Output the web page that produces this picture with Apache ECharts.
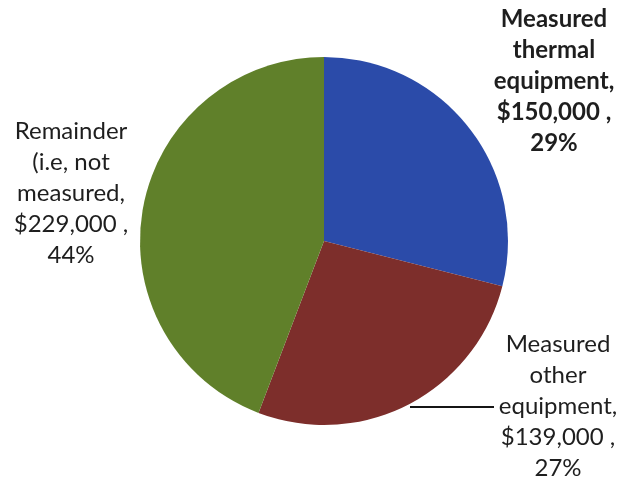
<!DOCTYPE html>
<html>
<head>
<meta charset="utf-8">
<script src="https://cdn.jsdelivr.net/npm/echarts@6/dist/echarts.min.js"></script>
<style>
  html, body { margin: 0; padding: 0; background: #ffffff; }
  #chart { width: 618px; height: 481px; }
</style>
</head>
<body>
<div id="chart"></div>
<script>
// Equipment cost breakdown
const categories = [
  'Measured\nthermal\nequipment,',
  'Measured\nother\nequipment,',
  'Remainder\n(i.e, not\nmeasured,'
];
const costs = [150000, 139000, 229000];
const sliceColors = ['#2b4ba9', '#7d2e2b', '#60802a'];

// label anchor: [centre x, top y] for each slice's text block
const labelAnchors = [[554, 4], [558, 329], [71, 116]];

const chart = echarts.init(document.getElementById('chart'), null, { renderer: 'canvas' });

const fmtMoney = v => '$' + v.toLocaleString('en-US');

chart.setOption({
  animation: false,
  series: [{
    type: 'pie',
    center: [324, 241],
    radius: 184,
    startAngle: 90,
    clockwise: true,
    data: categories.map((name, i) => ({
      name: name,
      value: costs[i],
      itemStyle: { color: sliceColors[i] },
      label: { fontWeight: i === 0 ? 'bold' : 'normal' },
      labelLine: { show: i === 1 }
    })),
    label: {
      show: true,
      position: 'outside',
      overflow: 'none',
      formatter: p => p.name + '\n' + fmtMoney(p.value) + ' ,\n' + Math.round(p.percent) + '%',
      fontFamily: 'Lato, "Open Sans", sans-serif',
      fontSize: 24,
      lineHeight: 31,
      color: '#1e1e1e',
      align: 'center'
    },
    labelLine: {
      show: false,
      lineStyle: { color: '#151515', width: 2 }
    },
    labelLayout: params => {
      const a = labelAnchors[params.dataIndex];
      const out = { x: a[0], y: a[1], align: 'center', verticalAlign: 'top' };
      if (params.dataIndex === 1) {
        const lineY = a[1] + 31 * 2 + 16;
        const end = a[0] - 64;
        out.labelLinePoints = [[end - 84, lineY], [end - 40, lineY], [end, lineY]];
      }
      return out;
    }
  }]
});
</script>
</body>
</html>
